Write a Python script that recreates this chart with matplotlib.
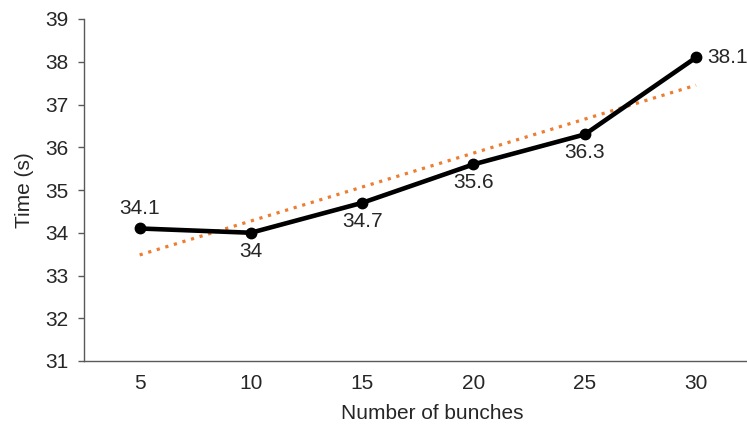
import matplotlib
matplotlib.use("Agg")
import matplotlib.pyplot as plt
import numpy as np

plt.rcParams['font.family'] = ['Liberation Sans', 'DejaVu Sans']

bunches = [5, 10, 15, 20, 25, 30]
times = [34.1, 34.0, 34.7, 35.6, 36.3, 38.1]
labels = ["34.1", "34", "34.7", "35.6", "36.3", "38.1"]
label_pos = ["above", "below", "below", "below", "below", "right"]

fig = plt.figure(figsize=(7.47, 4.25), dpi=100)
ax = fig.add_axes([84/747, 64/425, (751.7-84)/747, (361-19)/425])

x = np.array(bunches, dtype=float)
y = np.array(times)
coef = np.polyfit(x, y, 1)
ax.plot(x, np.polyval(coef, x), linestyle=(0, (1, 1.8)), color='#ED7D31', lw=2.3, zorder=2)
ax.plot(x, y, color='black', lw=3.3, marker='o', markersize=7.5, zorder=3)

fs = 15
tc = '#262626'
for xi, yi, lab, pos in zip(x, y, labels, label_pos):
    if pos == "above":
        ax.annotate(lab, (xi, yi), xytext=(0, 7.5), textcoords='offset points',
                    ha='center', va='bottom', fontsize=fs, color=tc)
    elif pos == "below":
        ax.annotate(lab, (xi, yi), xytext=(0, -6.5), textcoords='offset points',
                    ha='center', va='top', fontsize=fs, color=tc)
    else:
        ax.annotate(lab, (xi, yi), xytext=(8, 0), textcoords='offset points',
                    ha='left', va='center', fontsize=fs, color=tc)

ax.set_xlim(2.5, 32.5)
ax.set_ylim(31, 39)
ax.set_xticks(bunches)
ax.set_xticklabels([str(b) for b in bunches])
ax.set_yticks(range(31, 40))
ax.tick_params(axis='x', length=0, pad=9.5, labelsize=fs, colors=tc)
ax.tick_params(axis='y', length=4.5, width=1, direction='out', pad=6.5, labelsize=fs,
               colors=tc)
ax.tick_params(axis='both', color='#595959')
for s in ['top', 'right']:
    ax.spines[s].set_visible(False)
for s in ['left', 'bottom']:
    ax.spines[s].set_color('#595959')
    ax.spines[s].set_linewidth(1)

ax.set_xlabel("Number of bunches", fontsize=fs, color=tc, labelpad=7)
ax.xaxis.set_label_coords(0.522, -0.125)
ax.set_ylabel("Time (s)", fontsize=fs, color=tc, labelpad=8)

fig.savefig("out.png", dpi=100)
